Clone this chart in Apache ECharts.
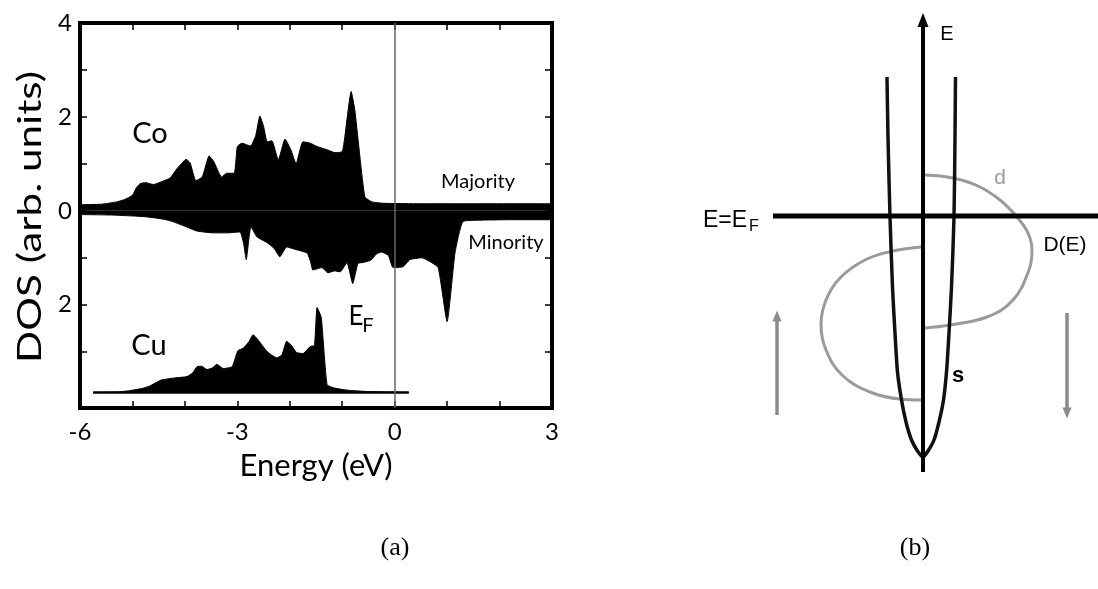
<!DOCTYPE html>
<html><head><meta charset="utf-8">
<script src="https://cdn.jsdelivr.net/npm/echarts@6/dist/echarts.min.js"></script>
<style>html,body{margin:0;padding:0;background:#fff}#c{width:1098px;height:589px}</style>
</head><body><div id="c"></div>
<script>
// ---------- Panel (a): DOS data ----------
const coMajE = [-6.0,-5.6,-5.3,-5.15,-5.0,-4.92,-4.85,-4.75,-4.6,-4.4,-4.28,-4.15,-4.05,-3.98,-3.9,-3.79,-3.67,-3.58,-3.54,-3.45,-3.3,-3.2,-3.06,-3.0,-2.91,-2.75,-2.65,-2.57,-2.5,-2.43,-2.34,-2.22,-2.09,-1.98,-1.88,-1.75,-1.61,-1.48,-1.29,-1.14,-1.0,-0.95,-0.83,-0.76,-0.57,-0.43,-0.2,0.5,1.5,3.0];
const coMaj  = [0.13,0.14,0.19,0.24,0.33,0.5,0.58,0.6,0.56,0.64,0.70,0.9,1.02,1.1,1.02,0.64,0.72,1.05,1.17,1.05,0.72,0.8,0.8,1.37,1.44,1.38,1.6,2.02,1.8,1.47,1.49,1.08,1.53,1.3,1.0,1.47,1.44,1.37,1.3,1.24,1.26,1.58,2.54,2.15,0.3,0.19,0.16,0.15,0.15,0.15];
const coMinE = [-6.0,-5.4,-5.0,-4.72,-4.4,-4.23,-4.0,-3.77,-3.46,-3.2,-2.95,-2.88,-2.83,-2.78,-2.74,-2.63,-2.43,-2.3,-2.19,-2.06,-1.87,-1.67,-1.6,-1.56,-1.39,-1.27,-1.15,-1.04,-0.91,-0.8,-0.7,-0.6,-0.45,-0.35,-0.25,-0.12,-0.03,0.16,0.29,0.52,0.67,0.83,1.0,1.15,1.3,1.6,2.2,3.0];
const coMin  = [-0.08,-0.09,-0.11,-0.13,-0.18,-0.23,-0.33,-0.43,-0.47,-0.47,-0.45,-0.7,-1.04,-0.6,-0.34,-0.55,-0.68,-0.8,-0.98,-0.77,-0.83,-0.9,-1.1,-1.26,-1.21,-1.32,-1.28,-1.3,-1.1,-1.55,-1.12,-1.1,-1.05,-0.92,-0.88,-0.95,-1.21,-1.19,-1.04,-1.0,-1.08,-1.21,-2.36,-0.9,-0.23,-0.2,-0.19,-0.19];
const cuE    = [-5.75,-5.3,-5.05,-4.8,-4.67,-4.5,-4.44,-4.2,-3.96,-3.85,-3.77,-3.68,-3.58,-3.48,-3.39,-3.27,-3.1,-2.99,-2.89,-2.78,-2.7,-2.61,-2.43,-2.25,-2.15,-2.06,-1.98,-1.87,-1.75,-1.61,-1.53,-1.48,-1.4,-1.29,-1.17,-0.9,-0.5,0.27];
const cuDOS  = [0,0.01,0.04,0.09,0.14,0.24,0.27,0.31,0.34,0.42,0.55,0.56,0.49,0.52,0.6,0.51,0.55,0.89,0.94,1.08,1.23,1.13,0.87,0.74,0.8,1.09,1.02,0.85,0.83,0.98,1.0,1.81,1.6,0.17,0.1,0.05,0.02,0];
const cuOffset = -3.87;            // Cu curve baseline on the shared DOS axis
const xTickLabels = [-6,-3,0,3];
const yTickValues = [4,3,2,1,0,-1,-2,-3];
const yTickLabels = [4,2,0,-2];

// ---------- Panel (b): schematic band data (x = D(E), y = E) ----------
const sBandX = [-0.36,-0.35,-0.33,-0.305,-0.28,-0.255,-0.215,-0.17,-0.115,-0.055,0,0.05,0.11,0.16,0.205,0.235,0.26,0.285,0.31,0.32,0.325];
const sBandE = [3.8,3.2,2.4,1.7,1.24,0.85,0.57,0.35,0.17,0.06,0,0.06,0.17,0.35,0.57,0.85,1.24,1.7,2.4,3.2,3.8];
const dUpX = [0.02,0.30,0.55,0.77,0.94,1.05,1.09,1.06,0.90,0.64,0.27,0.02];
const dUpE = [2.82,2.79,2.71,2.57,2.40,2.24,2.07,1.87,1.57,1.40,1.32,1.29];
const dDnX = [-0.01,-0.30,-0.58,-0.83,-0.97,-1.02,-0.97,-0.81,-0.53,-0.23,-0.01];
const dDnE = [2.10,2.06,1.97,1.79,1.57,1.32,1.07,0.82,0.65,0.58,0.57];
const fermiE = 2.41;
const fermiX = [-1.5, 1.75];
const eAxisE = [-0.15, 4.37];
const spinUp = {x: -1.46, from: 0.42, to: 1.41};
const spinDown = {x: 1.44, from: 1.44, to: 0.44};

const pairs = (xs, ys) => xs.map((x, i) => [x, ys[i]]);
const chart = echarts.init(document.getElementById('c'));
const FA = 'Lato';
const FB = 'Liberation Sans';

const txt = (x, y, text, size, extra, tf) => Object.assign({
  type: 'text', x: x, y: y, silent: true,
  style: Object.assign({text: text, fontSize: size, fontFamily: FA, fill: '#000',
    textAlign: 'center', textVerticalAlign: 'middle'}, extra || {})
}, tf || {});
const tick = {show: true, inside: true, length: 7, lineStyle: {color: '#000', width: 1.5}};

const option = {
  backgroundColor: '#fff',
  animation: false,
  grid: [
    {left: 80, right: 546, top: 23, bottom: 181, show: true, borderColor: '#000', borderWidth: 4},
    {left: 703, right: 0, top: 17, bottom: 107, show: false}
  ],
  xAxis: [
    {type: 'value', gridIndex: 0, min: -6, max: 3, interval: 1, position: 'bottom',
     axisLine: {show: false, onZero: false}, splitLine: {show: false}, axisTick: tick,
     axisLabel: {customValues: xTickLabels, margin: 12, fontSize: 24, fontFamily: FA, color: '#000',
       formatter: v => xTickLabels.indexOf(v) >= 0 ? String(v) : ''},
     name: 'Energy (eV)', nameLocation: 'middle', nameGap: 42,
     nameTextStyle: {fontSize: 31, fontFamily: FA, color: '#000'}},
    {type: 'value', gridIndex: 0, min: -6, max: 3, interval: 1, position: 'top',
     axisLine: {show: false, onZero: false}, splitLine: {show: false}, axisLabel: {show: false}, axisTick: tick},
    {type: 'value', gridIndex: 1, min: -2.2, max: 1.75, show: false}
  ],
  yAxis: [
    {type: 'value', gridIndex: 0, min: -4.2, max: 4, position: 'left',
     axisLine: {show: false, onZero: false}, splitLine: {show: false},
     axisTick: Object.assign({customValues: yTickValues}, tick),
     axisLabel: {customValues: yTickLabels, margin: 8, fontSize: 24, fontFamily: FA, color: '#000',
       formatter: v => yTickLabels.indexOf(v) >= 0 ? String(Math.abs(v)) : ''}},
    {type: 'value', gridIndex: 0, min: -4.2, max: 4, position: 'right',
     axisLine: {show: false, onZero: false}, splitLine: {show: false}, axisLabel: {show: false},
     axisTick: Object.assign({customValues: yTickValues}, tick)},
    {type: 'value', gridIndex: 1, min: -0.25, max: 4.4, show: false}
  ],
  series: [
    {type: 'line', name: 'Co majority', xAxisIndex: 0, yAxisIndex: 0, data: pairs(coMajE, coMaj),
     symbol: 'none', smooth: 0.15, lineStyle: {color: '#000', width: 1},
     areaStyle: {color: '#000', opacity: 1, origin: 0},
     markLine: {silent: true, symbol: 'none', label: {show: false},
       lineStyle: {color: '#666', width: 1.5, type: 'solid'}, data: [{xAxis: 0}]}},
    {type: 'line', name: 'Co minority', xAxisIndex: 0, yAxisIndex: 0, data: pairs(coMinE, coMin),
     symbol: 'none', smooth: 0.15, lineStyle: {color: '#000', width: 1},
     areaStyle: {color: '#000', opacity: 1, origin: 0}},
    {type: 'line', name: 'Cu', xAxisIndex: 0, yAxisIndex: 0,
     data: cuE.map((e, i) => [e, cuOffset + cuDOS[i]]), symbol: 'none', smooth: 0.15,
     lineStyle: {color: '#000', width: 1}, areaStyle: {color: '#000', opacity: 1, origin: cuOffset}},
    {type: 'line', name: 'Cu base', xAxisIndex: 0, yAxisIndex: 0,
     data: [[cuE[0], cuOffset], [cuE[cuE.length - 1], cuOffset]], symbol: 'none',
     lineStyle: {color: '#000', width: 2.5}},
    // panel (b)
    {type: 'line', name: 'd up', xAxisIndex: 2, yAxisIndex: 2, data: pairs(dUpX, dUpE), symbol: 'none',
     smooth: 0.4, lineStyle: {color: '#9a9a9a', width: 3}, z: 2},
    {type: 'line', name: 'd down', xAxisIndex: 2, yAxisIndex: 2, data: pairs(dDnX, dDnE), symbol: 'none',
     smooth: 0.4, lineStyle: {color: '#9a9a9a', width: 3}, z: 2},
    {type: 'line', name: 's', xAxisIndex: 2, yAxisIndex: 2, data: pairs(sBandX, sBandE), symbol: 'none',
     smooth: 0.25, lineStyle: {color: '#111', width: 3.5}, z: 3},
    {type: 'line', name: 'EF', xAxisIndex: 2, yAxisIndex: 2, data: fermiX.map(x => [x, fermiE]), symbol: 'none',
     lineStyle: {color: '#000', width: 5}, z: 4,
     markLine: {silent: true, label: {show: false}, animation: false,
       lineStyle: {type: 'solid'},
       data: [
         [{coord: [0, eAxisE[0]], symbol: 'none', lineStyle: {color: '#000', width: 4, type: 'solid'}},
          {coord: [0, eAxisE[1]], symbol: 'triangle', symbolSize: [11, 14]}],
         [{coord: [spinUp.x, spinUp.from], symbol: 'none', lineStyle: {color: '#8c8c8c', width: 3.5, type: 'solid'}},
          {coord: [spinUp.x, spinUp.to], symbol: 'triangle', symbolSize: [9, 11]}],
         [{coord: [spinDown.x, spinDown.from], symbol: 'none', lineStyle: {color: '#8c8c8c', width: 3.5, type: 'solid'}},
          {coord: [spinDown.x, spinDown.to], symbol: 'triangle', symbolSize: [9, 11]}]
       ]}}
  ],
  graphic: [
    txt(31, 217, 'DOS (arb. units)', 32, null, {rotation: Math.PI / 2, scaleX: 1.32}),
    txt(150, 134, 'Co', 29),
    txt(149, 346, 'Cu', 29),
    txt(356, 317, 'E', 26),
    txt(368, 326, 'F', 20),
    txt(478, 182, 'Majority', 20),
    txt(506, 243, 'Minority', 20),
    txt(947, 34, 'E', 20, {fontFamily: FB}),
    txt(725, 221, 'E=E', 23, {fontFamily: FB}),
    txt(754, 227, 'F', 16, {fontFamily: FB}),
    txt(1000, 178, 'd', 21, {fontFamily: FB, fill: '#999'}),
    txt(1065, 245, 'D(E)', 21, {fontFamily: FB}),
    txt(958, 376, 's', 22, {fontFamily: FB, fontWeight: 'bold'}),
    txt(395, 548, '(a)', 26, {fontFamily: 'Liberation Serif'}),
    txt(915, 548, '(b)', 26, {fontFamily: 'Liberation Serif'})
  ]
};
chart.setOption(option);
</script>
</body></html>
